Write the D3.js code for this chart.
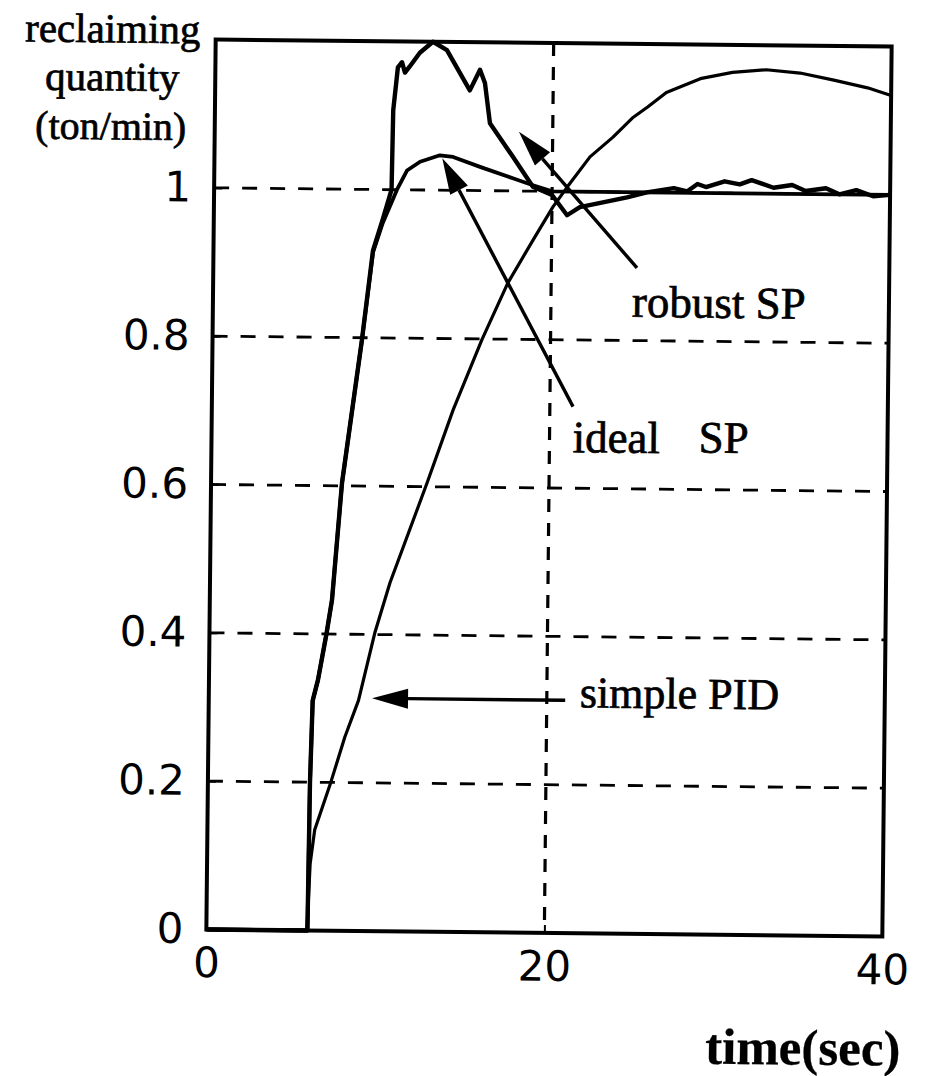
<!DOCTYPE html>
<html>
<head>
<meta charset="utf-8">
<script src="https://cdn.jsdelivr.net/npm/d3@7"></script>
<style>
  html, body { margin: 0; padding: 0; background: #fff; }
  svg { display: block; }
</style>
</head>
<body>
<svg id="chart" width="935" height="1076"></svg>
<script>
// ---------- data ----------
const timeTicks = [0, 20, 40];
const timeTickLabels = ["0", "20", "40"];
const valueTicks = [0, 0.2, 0.4, 0.6, 0.8, 1];
const valueTickLabels = ["0", "0.2", "0.4", "0.6", "0.8", "1"];

const robustT = [0, 5.98, 6.04, 6.15, 6.45, 6.93, 7.23, 7.75, 8.84, 9.44, 10.0, 10.5, 10.55, 10.8, 11.04, 11.22, 11.49, 12.09, 12.86, 13.69, 15.07, 15.66, 15.96, 16.28, 17.66, 18.86, 20.0, 20.9, 21.65, 24.44, 25.6, 27.2, 28.0, 28.6, 29.1, 30.2, 31.1, 31.8, 33.1, 34.2, 35.0, 36.2, 37.0, 38.0, 39.0, 40.0];
const robustV = [0, 0, 0.2, 0.31, 0.338, 0.401, 0.446, 0.604, 0.797, 0.918, 0.96, 1.0, 1.107, 1.165, 1.172, 1.158, 1.166, 1.185, 1.2, 1.189, 1.135, 1.163, 1.145, 1.091, 1.046, 1.006, 0.995, 0.968, 0.979, 0.993, 1.0, 1.006, 1.002, 1.012, 1.008, 1.016, 1.012, 1.018, 1.008, 1.012, 1.004, 1.008, 1.0, 1.006, 0.998, 1.0];

const idealT = [0, 5.98, 6.04, 6.15, 6.45, 6.93, 7.23, 7.75, 8.84, 9.44, 10.0, 10.82, 11.4, 12.17, 13.34, 14.12, 15.72, 17.67, 18.86, 20.0, 40.0];
const idealV = [0, 0, 0.2, 0.31, 0.338, 0.401, 0.446, 0.604, 0.797, 0.915, 0.955, 1.0, 1.026, 1.038, 1.047, 1.045, 1.032, 1.017, 1.008, 1.0, 1.0];

const pidT = [0, 5.95, 6.1, 6.35, 7.27, 8.07, 8.86, 9.78, 10.65, 12.78, 14.28, 15.94, 17.44, 18.9, 20.06, 20.89, 22.22, 23.57, 24.7, 25.6, 26.7, 28.7, 30.6, 32.6, 34.6, 36.6, 38.6, 40.0];
const pidV = [0, 0, 0.09, 0.136, 0.2, 0.261, 0.311, 0.402, 0.47, 0.605, 0.704, 0.799, 0.876, 0.934, 0.979, 1.006, 1.047, 1.074, 1.1, 1.115, 1.135, 1.154, 1.163, 1.167, 1.163, 1.154, 1.144, 1.134];

// annotation arrows: [tailT, tailV, tipT, tipV]
const annotationNames = ["robust SP", "ideal", "SP", "simple PID"];
const robustArrow = [25.07, 0.898, 18.0, 1.08];
const idealArrow = [21.37, 0.71, 13.48, 1.043];
const pidArrow = [21.09, 0.314, 9.66, 0.314];

// ---------- layout ----------
const svg = d3.select("#chart");
svg.append("rect").attr("width", 935).attr("height", 1076).attr("fill", "#fff");
const pLeft = 211, pRight = 887, pTop = 43, pBottom = 933;
const x = d3.scaleLinear().domain([0, 40]).range([pLeft, pRight]);
const y = d3.scaleLinear().domain([0, 1.2]).range([pBottom, pTop]);

const g = svg.append("g").attr("transform", "rotate(0.6,549,488)");

// grid
g.selectAll("line.hgrid").data(valueTicks.filter(v => v > 0)).enter().append("line")
  .attr("x1", pLeft).attr("x2", pRight)
  .attr("y1", d => y(d)).attr("y2", d => y(d))
  .attr("stroke", "#000").attr("stroke-width", 2.8).attr("stroke-dasharray", "15,13");
g.selectAll("line.vgrid").data([20]).enter().append("line")
  .attr("y1", pTop).attr("y2", pBottom)
  .attr("x1", d => x(d)).attr("x2", d => x(d))
  .attr("stroke", "#000").attr("stroke-width", 3.2).attr("stroke-dasharray", "13,11");

// axes
const yAxis = d3.axisLeft(y).tickValues(valueTicks)
  .tickFormat((d, i) => valueTickLabels[i]).tickSize(-8).tickPadding(23);
const ya = g.append("g").attr("transform", `translate(${pLeft},0)`).call(yAxis);
const xAxis = d3.axisBottom(x).tickValues(timeTicks)
  .tickFormat((d, i) => timeTickLabels[i]).tickSize(-8).tickPadding(18);
const xa = g.append("g").attr("transform", `translate(0,${pBottom})`).call(xAxis);
[ya, xa].forEach(a => {
  a.select(".domain").remove();
  a.selectAll(".tick line").attr("stroke", "#000").attr("stroke-width", 2);
  a.selectAll(".tick text").attr("fill", "#000")
    .style("font-family", "'DejaVu Sans', sans-serif").style("font-size", "42px");
});

// curves
const line = d3.line().x(d => x(d[0])).y(d => y(d[1]));
const series = [
  { t: pidT, v: pidV, w: 3.2 },
  { t: idealT, v: idealV, w: 3.8 },
  { t: robustT, v: robustV, w: 4.4 }
];
series.forEach(s => {
  g.append("path").datum(s.t.map((t, i) => [t, s.v[i]]))
    .attr("d", line).attr("fill", "none").attr("stroke", "#000")
    .attr("stroke-width", s.w).attr("stroke-linejoin", "round");
});

// frame
g.append("rect").attr("x", pLeft).attr("y", pTop)
  .attr("width", pRight - pLeft).attr("height", pBottom - pTop)
  .attr("fill", "none").attr("stroke", "#000").attr("stroke-width", 4);

// arrows
function arrow(a) {
  const x1 = x(a[0]), y1 = y(a[1]), x2 = x(a[2]), y2 = y(a[3]);
  const ang = Math.atan2(y2 - y1, x2 - x1);
  const L = 36, hw = 10;
  const bx = x2 - L * Math.cos(ang), by = y2 - L * Math.sin(ang);
  g.append("line").attr("x1", x1).attr("y1", y1).attr("x2", bx).attr("y2", by)
    .attr("stroke", "#000").attr("stroke-width", 3.4);
  const px = -Math.sin(ang) * hw, py = Math.cos(ang) * hw;
  g.append("path")
    .attr("d", `M${x2},${y2}L${bx + px},${by + py}L${bx - px},${by - py}Z`)
    .attr("fill", "#000");
}
[robustArrow, idealArrow, pidArrow].forEach(arrow);

// texts
const serif = "'Liberation Serif', 'Times New Roman', serif";
function txt(s, tx, ty, size, anchor, weight, sw) {
  g.append("text").attr("x", tx).attr("y", ty).text(s)
    .attr("text-anchor", anchor || "start")
    .style("font-family", serif).style("font-size", size + "px")
    .style("font-weight", weight || "normal").attr("fill", "#000")
    .attr("stroke", "#000").attr("stroke-width", sw === undefined ? 0.7 : sw);
}
txt(annotationNames[0], 630, 316, 45);
txt(annotationNames[1], 572, 452, 45);
txt(annotationNames[2], 698, 451, 45);
txt(annotationNames[3], 582, 707, 44);

txt("reclaiming", 108, 47, 41, "middle");
txt("quantity", 108, 95, 41, "middle");
txt("(ton/min)", 107, 144, 40, "middle");
txt("time(sec)", 711, 1062, 51, "start", "bold", 0.3);
</script>
</body>
</html>
